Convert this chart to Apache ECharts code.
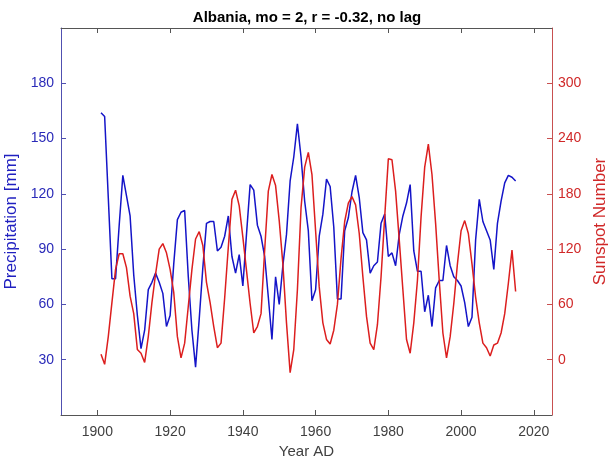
<!DOCTYPE html>
<html>
<head>
<meta charset="utf-8">
<script src="https://cdn.jsdelivr.net/npm/echarts@6.0.0/dist/echarts.min.js"></script>
<style>
  html, body { margin: 0; padding: 0; background: #fff; }
  #main { width: 608px; height: 461px; }
</style>
</head>
<body>
<div id="main"></div>
<script>
// yearly values, 1901..2015
const firstYear = 1901;
const precipitation = [
  164, 162, 118, 74, 74, 103, 130, 119, 108, 76,
  54, 36, 46, 68, 72, 77, 72, 66, 48, 54,
  82, 106, 110, 111, 75, 46, 26, 52, 80, 104,
  105, 105, 89, 91, 97, 108, 86, 77, 87, 70,
  98, 125, 122, 103, 97, 86, 64, 41, 75, 60,
  81, 98, 127, 140, 158, 140, 116, 100, 62, 68,
  97, 109, 128, 124, 102, 63, 63, 100, 107, 121,
  130, 118, 99, 95, 77, 81, 83, 104, 109, 86,
  88, 81, 98, 108, 115, 125, 89, 78, 78, 56,
  65, 48, 69, 73, 73, 92, 81, 75, 73, 70,
  61, 48, 53, 95, 117, 105, 100, 95, 79, 104,
  116, 126, 130, 129, 127
];
const sunspots = [
  6, -5, 25, 62, 98, 115, 115, 100, 69, 50,
  11, 7, -3, 25, 62, 93, 120, 126, 116, 98,
  73, 25, 2, 18, 58, 98, 131, 139, 124, 84,
  62, 36, 13, 18, 67, 122, 174, 184, 167, 133,
  97, 61, 29, 36, 50, 119, 183, 201, 189, 151,
  104, 40, -14, 11, 76, 165, 209, 225, 201, 140,
  79, 40, 22, 17, 32, 60, 110, 150, 170, 177,
  168, 137, 90, 47, 18, 11, 38, 90, 155, 218,
  217, 183, 130, 76, 22, 7, 40, 86, 155, 209,
  234, 201, 148, 86, 29, 2, 25, 61, 104, 140,
  151, 137, 104, 68, 40, 18, 13, 4, 16, 18,
  29, 50, 83, 119, 74
];
const xTicks = [1900, 1920, 1940, 1960, 1980, 2000, 2020];
const leftTicks = [30, 60, 90, 120, 150, 180];
const rightTicks = [0, 60, 120, 180, 240, 300];

const blue = '#1414c8';
const red = '#dc1e1e';
const font = 'Liberation Sans, Arial, sans-serif';

const chart = echarts.init(document.getElementById('main'), null, { renderer: 'canvas' });

const pairs = (vals) => vals.map((v, i) => [firstYear + i, v]);

const option = {
  animation: false,
  backgroundColor: '#fff',
  title: {
    text: 'Albania, mo = 2, r = -0.32, no lag',
    left: 307,
    textAlign: 'center',
    top: 10,
    padding: 0,
    textStyle: { fontFamily: font, fontSize: 15, fontWeight: 'bold', color: '#000' }
  },
  grid: { left: 61, right: 56, top: 28, bottom: 46, containLabel: false, outerBoundsMode: 'none' },
  xAxis: [
    {
      type: 'value',
      min: 1890,
      max: 2025,
      name: 'Year AD',
      nameLocation: 'middle',
      nameGap: 29,
      nameTextStyle: { fontFamily: font, fontSize: 15, color: '#404040' },
      axisLine: { show: true, onZero: false, lineStyle: { color: '#555', width: 1 } },
      axisTick: { show: true, inside: true, length: 5, customValues: xTicks, lineStyle: { color: '#555' } },
      axisLabel: {
        customValues: xTicks, margin: 10, fontFamily: font, fontSize: 14, color: '#404040',
        formatter: (v) => String(v)
      },
      splitLine: { show: false }
    },
    {
      type: 'value',
      position: 'top',
      min: 1890,
      max: 2025,
      axisLine: { show: true, onZero: false, lineStyle: { color: '#555', width: 1 } },
      axisTick: { show: true, inside: true, length: 5, customValues: xTicks, lineStyle: { color: '#555' } },
      axisLabel: { show: false },
      splitLine: { show: false }
    }
  ],
  yAxis: [
    {
      type: 'value',
      min: 0,
      max: 210,
      position: 'left',
      name: 'Precipitation [mm]',
      nameLocation: 'middle',
      nameGap: 36,
      nameTextStyle: { fontFamily: font, fontSize: 17, color: '#2020c0' },
      axisLine: { show: true, onZero: false, lineStyle: { color: '#5050b0', width: 1 } },
      axisTick: { show: true, inside: true, length: 5, customValues: leftTicks, lineStyle: { color: '#5050b0' } },
      axisLabel: { customValues: leftTicks, margin: 7, fontFamily: font, fontSize: 14, color: '#2a2ab8' },
      splitLine: { show: false }
    },
    {
      type: 'value',
      min: -60,
      max: 360,
      position: 'right',
      name: 'Sunspot Number',
      nameLocation: 'middle',
      nameGap: 39,
      nameTextStyle: { fontFamily: font, fontSize: 17, color: '#d02828' },
      axisLine: { show: true, onZero: false, lineStyle: { color: '#c85050', width: 1 } },
      axisTick: { show: true, inside: true, length: 5, customValues: rightTicks, lineStyle: { color: '#c85050' } },
      axisLabel: { customValues: rightTicks, margin: 6, fontFamily: font, fontSize: 14, color: '#d02828' },
      splitLine: { show: false }
    }
  ],
  series: [
    {
      name: 'Precipitation',
      type: 'line',
      xAxisIndex: 0,
      yAxisIndex: 0,
      data: pairs(precipitation),
      symbol: 'none',
      lineStyle: { color: blue, width: 1.5 }
    },
    {
      name: 'Sunspot Number',
      type: 'line',
      xAxisIndex: 0,
      yAxisIndex: 1,
      data: pairs(sunspots),
      symbol: 'none',
      lineStyle: { color: red, width: 1.5 }
    }
  ]
};

chart.setOption(option);
</script>
</body>
</html>
